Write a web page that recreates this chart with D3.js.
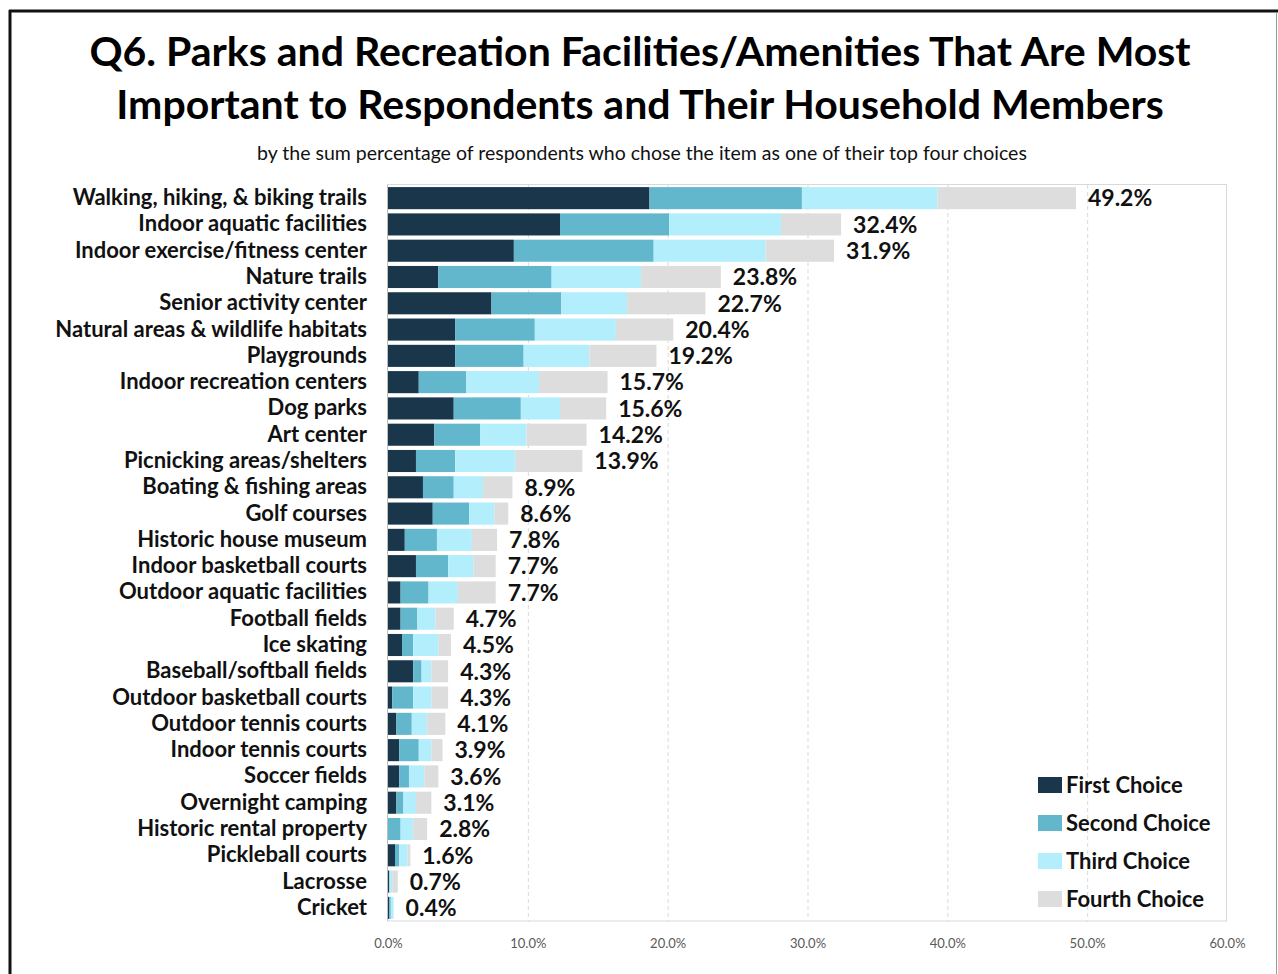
<!DOCTYPE html>
<html>
<head>
<meta charset="utf-8">
<style type="text/css">
body { margin: 0; background: #fff; }
text { font-family: Lato, "Open Sans", sans-serif; }
</style>
<script src="https://d3js.org/d3.v7.min.js"></script>
</head>
<body>
<script>
// chart values
var categories = ["Walking, hiking, & biking trails", "Indoor aquatic facilities", "Indoor exercise/fitness center",
  "Nature trails", "Senior activity center", "Natural areas & wildlife habitats", "Playgrounds",
  "Indoor recreation centers", "Dog parks", "Art center", "Picnicking areas/shelters", "Boating & fishing areas",
  "Golf courses", "Historic house museum", "Indoor basketball courts", "Outdoor aquatic facilities",
  "Football fields", "Ice skating", "Baseball/softball fields", "Outdoor basketball courts",
  "Outdoor tennis courts", "Indoor tennis courts", "Soccer fields", "Overnight camping",
  "Historic rental property", "Pickleball courts", "Lacrosse", "Cricket"];
var firstChoice  = [18.7, 12.3, 9.0, 3.6, 7.4, 4.8, 4.8, 2.2, 4.7, 3.3, 2.0, 2.5, 3.2, 1.2, 2.0, 0.9, 0.9, 1.0, 1.8, 0.3, 0.6, 0.8, 0.8, 0.6, 0.0, 0.5, 0.1, 0.1];
var secondChoice = [10.9, 7.8, 10.0, 8.1, 5.0, 5.7, 4.9, 3.4, 4.8, 3.3, 2.8, 2.2, 2.6, 2.3, 2.3, 2.0, 1.2, 0.8, 0.6, 1.5, 1.1, 1.4, 0.7, 0.5, 0.9, 0.3, 0.0, 0.1];
var thirdChoice  = [9.7, 8.0, 8.0, 6.4, 4.7, 5.8, 4.7, 5.2, 2.8, 3.3, 4.3, 2.1, 1.8, 2.5, 1.8, 2.1, 1.3, 1.8, 0.7, 1.3, 1.1, 0.9, 1.1, 0.9, 0.9, 0.6, 0.2, 0.2];
var fourthChoice = [9.9, 4.3, 4.9, 5.7, 5.6, 4.1, 4.8, 4.9, 3.3, 4.3, 4.8, 2.1, 1.0, 1.8, 1.6, 2.7, 1.3, 0.9, 1.2, 1.2, 1.3, 0.8, 1.0, 1.1, 1.0, 0.2, 0.4, 0.0];
var totals = [49.2, 32.4, 31.9, 23.8, 22.7, 20.4, 19.2, 15.7, 15.6, 14.2, 13.9, 8.9, 8.6, 7.8, 7.7, 7.7, 4.7, 4.5, 4.3, 4.3, 4.1, 3.9, 3.6, 3.1, 2.8, 1.6, 0.7, 0.4];
var seriesNames = ["First Choice", "Second Choice", "Third Choice", "Fourth Choice"];
var xTicks = [0, 10, 20, 30, 40, 50, 60];

var colors = ["#19364b", "#62b7cd", "#b3eefc", "#dddddd"];

var W = 1278, H = 974;
var svg = d3.select("body").append("svg")
    .attr("width", W)
    .attr("height", H);

// outer frame
svg.append("line").attr("x1", 9).attr("x2", 1278).attr("y1", 11).attr("y2", 11)
   .attr("stroke", "#111").attr("stroke-width", 3);
svg.append("line").attr("x1", 10).attr("x2", 10).attr("y1", 10).attr("y2", H)
   .attr("stroke", "#111").attr("stroke-width", 3);
svg.append("line").attr("x1", 1276.5).attr("x2", 1276.5).attr("y1", 12).attr("y2", H)
   .attr("stroke", "#999").attr("stroke-width", 1);

// titles
svg.append("text").attr("x", 640).attr("y", 66).attr("text-anchor", "middle")
   .style("font-size", "41px").style("font-weight", "bold").attr("fill", "#000")
   .text("Q6. Parks and Recreation Facilities/Amenities That Are Most");
svg.append("text").attr("x", 640).attr("y", 119).attr("text-anchor", "middle")
   .style("font-size", "41px").style("font-weight", "bold").attr("fill", "#000")
   .text("Important to Respondents and Their Household Members");
svg.append("text").attr("x", 642).attr("y", 160).attr("text-anchor", "middle")
   .style("font-size", "19.5px").attr("fill", "#111")
   .text("by the sum percentage of respondents who chose the item as one of their top four choices");

var x = d3.scaleLinear().domain([0, 60]).range([388, 1227]);
var y = d3.scaleBand().domain(categories).range([185, 921]).paddingInner(0.16).paddingOuter(0.08);

// plot area border
svg.append("rect").attr("x", x(0) - 0.5).attr("y", 184.5)
   .attr("width", x(60) - x(0)).attr("height", 921 - 184.5)
   .attr("fill", "none").attr("stroke", "#d9d9d9");

// dashed gridlines
svg.selectAll(".grid").data(xTicks.slice(1, -1)).enter().append("line")
   .attr("class", "grid")
   .attr("x1", function(d){ return x(d) + 0.5; }).attr("x2", function(d){ return x(d) + 0.5; })
   .attr("y1", 185).attr("y2", 921)
   .attr("stroke", "#d9d9d9").attr("stroke-dasharray", "4,3");

// stack
var rows = categories.map(function(c, i){
  return {cat: c, s0: firstChoice[i], s1: secondChoice[i], s2: thirdChoice[i], s3: fourthChoice[i], total: totals[i]};
});
var stack = d3.stack().keys(["s0", "s1", "s2", "s3"])(rows);

svg.append("g").selectAll("g").data(stack).enter().append("g")
   .attr("fill", function(d, i){ return colors[i]; })
 .selectAll("rect").data(function(d){ return d; }).enter().append("rect")
   .attr("x", function(d){ return x(d[0]); })
   .attr("y", function(d){ return y(d.data.cat); })
   .attr("width", function(d){ return Math.max(0, x(d[1]) - x(d[0])); })
   .attr("height", y.bandwidth());

// left axis line
svg.append("line").attr("x1", x(0) - 0.5).attr("x2", x(0) - 0.5).attr("y1", 185).attr("y2", 921)
   .attr("stroke", "#bfbfbf");

// category labels
var yAxis = svg.append("g").attr("transform", "translate(367,0)")
   .call(d3.axisLeft(y).tickSize(0).tickPadding(0));
yAxis.select(".domain").remove();
yAxis.selectAll("text").style("font-size", "22px").style("font-weight", "bold")
   .attr("fill", "#111").style("font-family", "Lato, sans-serif");

// total labels
svg.append("g").selectAll("text").data(rows).enter().append("text")
   .attr("x", function(d){ return x(d.total) + 12; })
   .attr("y", function(d){ return y(d.cat) + y.bandwidth() / 2; })
   .attr("dy", "0.36em")
   .style("font-size", "23px").style("font-weight", "bold").attr("fill", "#111")
   .text(function(d){ return d.total.toFixed(1) + "%"; });

// x axis tick labels
var xAxis = svg.append("g").attr("transform", "translate(0,921)")
   .call(d3.axisBottom(x).tickValues(xTicks).tickSize(0).tickPadding(18)
      .tickFormat(function(d){ return d.toFixed(1) + "%"; }));
xAxis.select(".domain").remove();
xAxis.selectAll("text").style("font-size", "13px").attr("fill", "#595959")
   .style("font-family", "Lato, sans-serif");

// legend
var legend = svg.append("g").selectAll("g").data(seriesNames).enter().append("g")
   .attr("transform", function(d, i){ return "translate(1038," + (785 + i * 38) + ")"; });
legend.append("rect").attr("x", 0).attr("y", -8).attr("width", 24).attr("height", 16)
   .attr("fill", function(d, i){ return colors[i]; });
legend.append("text").attr("x", 28).attr("dy", "0.36em")
   .style("font-size", "22px").style("font-weight", "bold").attr("fill", "#111")
   .text(function(d){ return d; });
</script>
</body>
</html>
